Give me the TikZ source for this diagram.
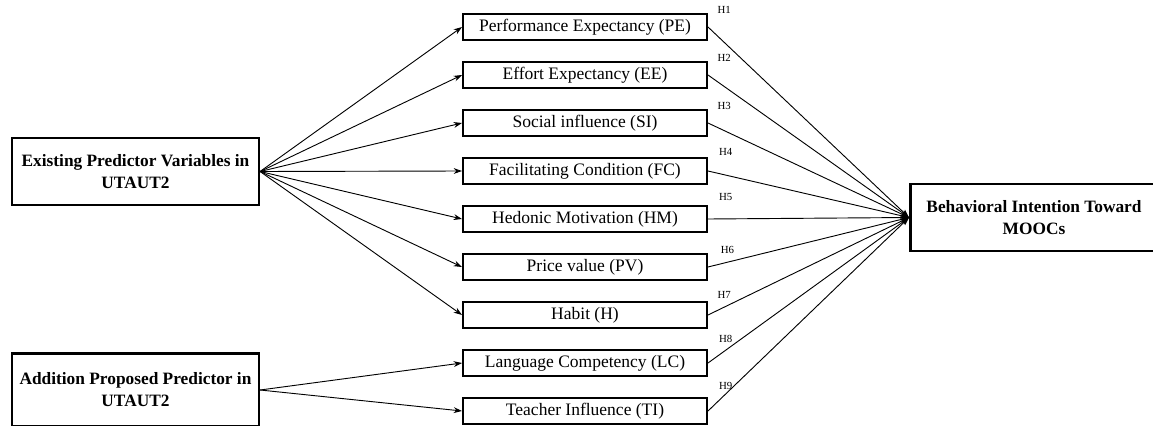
\documentclass[tikz,border=0pt]{standalone}
\usepackage{fontspec}
\setmainfont{Liberation Serif}
\usetikzlibrary{arrows.meta,positioning}
\begin{document}
\begin{tikzpicture}[x=0.6pt,y=-0.6pt,node distance=12pt]
\tikzset{v/.style={draw,line width=1.2pt,minimum width=146.4pt,minimum height=15.6pt,inner sep=0pt,font=\fontsize{10.5}{12}\selectfont},g/.style={draw,line width=1.5pt,minimum width=148pt,minimum height=40pt,align=center,font=\fontsize{10.4}{13.2}\selectfont\bfseries},hl/.style={font=\fontsize{6.5}{7}\selectfont,inner sep=0.5pt},a/.style={-{Stealth[length=5pt,width=3.5pt]},line width=0.55pt}}
\useasboundingbox (0,0) rectangle (1153,425);
\node[g] (ex) at (135.5,171.5) {Existing Predictor Variables in\\UTAUT2};
\node[g,minimum height=44pt] (ad) at (135.5,390) {Addition Proposed Predictor in\\UTAUT2};
\node[g,minimum width=148.5pt] (bi) at (1034,217.5) {Behavioral Intention Toward\\MOOCs};
\node[v] (pe) at (585,27) {Performance Expectancy (PE)};
\node[v,below=of pe] (ee) {Effort Expectancy (EE)};
\node[v,below=of ee] (si) {Social influence (SI)};
\node[v,below=of si] (fc) {Facilitating Condition (FC)};
\node[v,below=of fc] (hm) {Hedonic Motivation (HM)};
\node[v,below=of hm] (pv) {Price value (PV)};
\node[v,below=of pv] (hb) {Habit (H)};
\node[v,below=of hb] (lc) {Language Competency (LC)};
\node[v,below=of lc] (ti) {Teacher Influence (TI)};
% hypothesis tags
\node[hl,above right=-1pt and 5pt of pe.north east] (h1) {H1};
\node[hl,above right=-1pt and 5pt of ee.north east] (h2) {H2};
\node[hl,above right=-1pt and 5pt of si.north east] (h3) {H3};
\node[hl,above right=0pt and 6pt of fc.north east] (h4) {H4};
\node[hl,above right=2pt and 6pt of hm.north east] (h5) {H5};
\node[hl,above right=-1pt and 7pt of pv.north east] (h6) {H6};
\node[hl,above right=1pt and 5pt of hb.north east] (h7) {H7};
\node[hl,above right=3pt and 6pt of lc.north east] (h8) {H8};
\node[hl,above right=3.5pt and 6pt of ti.north east] (h9) {H9};
\draw[a](ex.east)--(pe.west);\draw[a](ex.east)--(ee.west);\draw[a](ex.east)--(si.west);\draw[a](ex.east)--(fc.west);
\draw[a](ex.east)--(hm.west);\draw[a](ex.east)--(pv.west);\draw[a](ex.east)--(hb.west);
\draw[a](ad.east)--(lc.west);\draw[a](ad.east)--(ti.west);
\draw[a](pe.east)--(bi.west);\draw[a](ee.east)--(bi.west);\draw[a](si.east)--(bi.west);\draw[a](fc.east)--(bi.west);\draw[a](hm.east)--(bi.west);
\draw[a](pv.east)--(bi.west);\draw[a](hb.east)--(bi.west);\draw[a](lc.east)--(bi.west);\draw[a](ti.east)--(bi.west);
\end{tikzpicture}
\end{document}
